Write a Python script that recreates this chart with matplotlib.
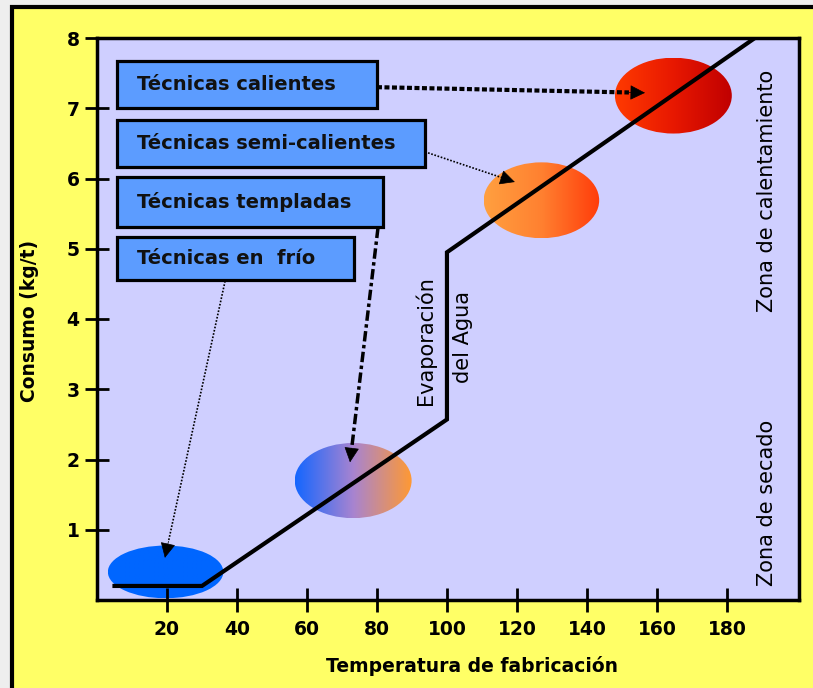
import numpy as np
import matplotlib.pyplot as plt
from matplotlib.patches import Rectangle, Ellipse
from matplotlib.colors import LinearSegmentedColormap


# --------- data ---------

temperatura = [5, 30, 100, 100, 188]
consumo = [0.2, 0.2, 2.57, 4.95, 8.0]

x_ticks = [20, 40, 60, 80, 100, 120, 140, 160, 180]
y_ticks = [1, 2, 3, 4, 5, 6, 7, 8]

# zones (ellipses): centre, size, colour stops (left -> right)
zona_x = [19.6, 73.2, 127.0, 164.7]
zona_y = [0.40, 1.70, 5.69, 7.18]
zona_w = [33.0, 33.4, 33.0, 33.4]
zona_h = [0.75, 1.07, 1.08, 1.08]
zona_colores = [
    ['#0066FF', '#0066FF'],
    ['#1466FF', '#A884D0', '#FF9933'],
    ['#FFA040', '#FF8030', '#FF3C0A'],
    ['#FF3A00', '#E81800', '#C00000'],
]

# label boxes (x0, x1, y_bottom, y_top) and texts
tecnicas = ['Técnicas calientes', 'Técnicas semi-calientes',
            'Técnicas templadas', 'Técnicas en  frío']
caja_x0 = [5.7, 5.7, 5.7, 5.7]
caja_x1 = [80.0, 93.7, 81.7, 73.4]
caja_y0 = [7.00, 6.16, 5.31, 4.56]
caja_y1 = [7.67, 6.83, 6.02, 5.17]

# arrows from boxes to ellipses
flecha_ini = [(80.0, 7.30), (93.7, 6.38), (80.3, 5.30), (36.6, 4.54)]
flecha_fin = [(156.6, 7.22), (119.4, 5.95), (72.3, 1.96), (19.4, 0.60)]
flecha_estilo = [(0, (1.2, 0.6)), (0, (1, 1)), (0, (3, 1, 1, 1)), (0, (1, 1))]
flecha_lw = [3.0, 1.2, 2.5, 1.2]


# --------- figure ---------

fig = plt.figure(figsize=(8.13, 6.88), dpi=100)
fig.patch.set_facecolor('#EEEEEE')
panel = Rectangle((11.5 / 813, -0.1), 1.2, 1.1 - 7.5 / 688, transform=fig.transFigure,
                  facecolor='#FFFF66', edgecolor='black', lw=3, zorder=-10)
fig.patches.append(panel)

ax = fig.add_axes([97 / 813, 88 / 688, 702 / 813, 562 / 688])
ax.set_zorder(1)
ax.set_facecolor('#CFCFFF')

# gradient ellipses
for cx, cy, w, h, cols in zip(zona_x, zona_y, zona_w, zona_h, zona_colores):
    e = Ellipse((cx, cy), w, h, facecolor='none', edgecolor='none')
    ax.add_patch(e)
    cmap = LinearSegmentedColormap.from_list('g', cols)
    im = ax.imshow(np.linspace(0, 1, 256)[None, :], cmap=cmap, aspect='auto',
                   extent=[cx - w / 2, cx + w / 2, cy - h / 2, cy + h / 2],
                   origin='lower', interpolation='bilinear', zorder=1)
    im.set_clip_path(e)

# main curve
ax.plot(temperatura, consumo, color='black', lw=3, zorder=3, solid_joinstyle='miter')

# boxes
for txt, x0, x1, y0, y1 in zip(tecnicas, caja_x0, caja_x1, caja_y0, caja_y1):
    ax.add_patch(Rectangle((x0, y0), x1 - x0, y1 - y0, facecolor='#5C9CFF',
                           edgecolor='black', lw=2.3, zorder=4))
    ax.text(x0 + 5.7, (y0 + y1) / 2, txt, fontsize=14, fontweight='bold',
            ha='left', va='center', color='#111111', zorder=5)

# arrows
for (xs, ys), (xe, ye), ls, lw in zip(flecha_ini, flecha_fin, flecha_estilo, flecha_lw):
    xb = xe - 0.06 * (xe - xs)
    yb = ye - 0.06 * (ye - ys)
    ax.plot([xs, xb], [ys, yb], color='black', lw=lw, linestyle=ls, zorder=4)
    ax.annotate('', xy=(xe, ye), xytext=(xb, yb),
                arrowprops=dict(arrowstyle='-|>', color='black', lw=0.5,
                                mutation_scale=24, shrinkA=0, shrinkB=0), zorder=5)

# rotated annotations
ax.text(93.8, 3.7, 'Evaporación', rotation=90, fontsize=15, ha='center', va='center')
ax.text(104.5, 3.75, 'del Agua', rotation=90, fontsize=15, ha='center', va='center')
ax.text(191.5, 5.83, 'Zona de calentamiento', rotation=90, fontsize=15, ha='center', va='center')
ax.text(191.5, 1.38, 'Zona de secado', rotation=90, fontsize=15, ha='center', va='center')

ax.set_xlim(0, 200.6)
ax.set_ylim(0, 8)
ax.set_xticks(x_ticks)
ax.set_yticks(y_ticks)
ax.tick_params(direction='inout', length=17, width=2, labelsize=13.5, color='black')
ax.tick_params(axis='x', pad=6)
ax.tick_params(axis='y', pad=4)
for lab in ax.get_xticklabels() + ax.get_yticklabels():
    lab.set_fontweight('bold')
for sp in ax.spines.values():
    sp.set_linewidth(2.5)
    sp.set_zorder(6)

ax.set_xlabel('Temperatura de fabricación', fontsize=13.5, fontweight='bold')
ax.xaxis.set_label_coords(0.534, -0.099)
ax.set_ylabel('Consumo (kg/t)', fontsize=13.5, fontweight='bold')
ax.yaxis.set_label_coords(-0.082, 0.497)

fig.savefig('out.png', dpi=100, facecolor=fig.get_facecolor())
